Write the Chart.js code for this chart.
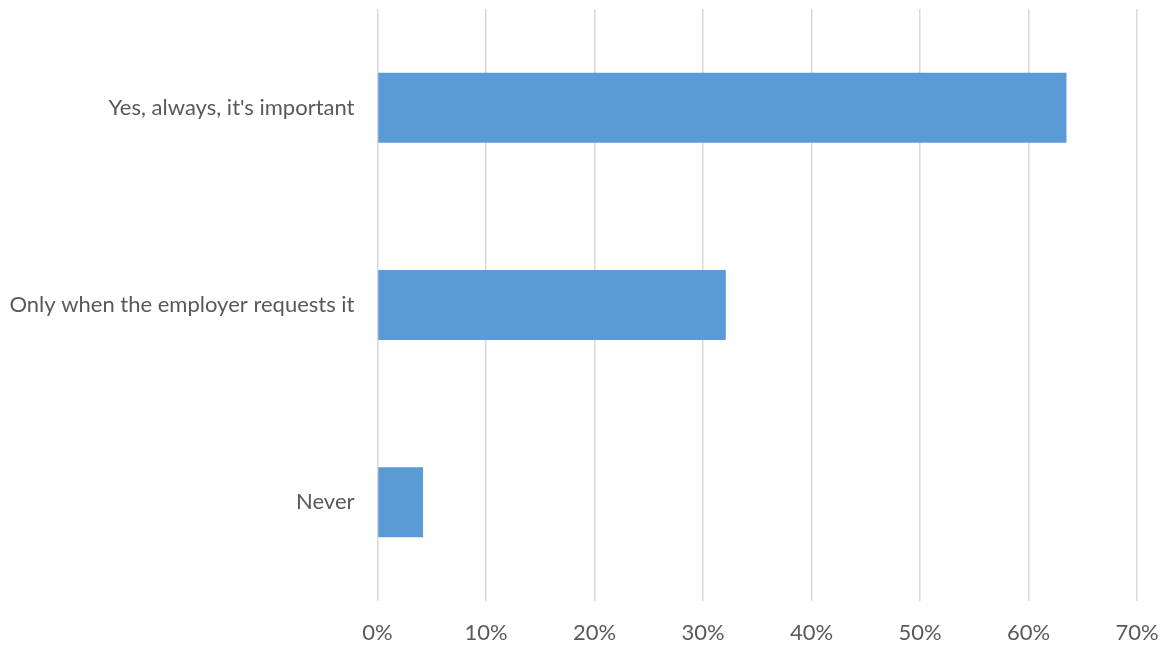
<!DOCTYPE html>
<html>
<head>
<meta charset="utf-8">
<script src="https://cdn.jsdelivr.net/npm/chart.js@4/dist/chart.umd.min.js"></script>
<style>
  html, body { margin: 0; padding: 0; background: #fff; }
  #wrap { width: 1175px; height: 660px; }
</style>
</head>
<body>
<div id="wrap"><canvas id="myChart" width="1175" height="660"></canvas></div>
<script>
// data
const categories = ["Yes, always, it's important", "Only when the employer requests it", "Never"]
const shares = [63.5, 32.1, 4.2]
const tickValues = [0, 10, 20, 30, 40, 50, 60, 70]

const labelFont = { family: "Lato, 'Open Sans', sans-serif", size: 22 }

const data = {
    labels: categories,
    datasets: [{
        data: shares,
        backgroundColor: '#5B9BD5',
        borderWidth: 0,
        barPercentage: 0.355,
        categoryPercentage: 1
    }]
}

const config = {
    type: 'bar',
    data,
    options: {
        indexAxis: 'y',
        responsive: false,
        animation: false,
        layout: { padding: { top: 9, right: 38, left: 0, bottom: 0 } },
        plugins: {
            legend: { display: false },
            tooltip: { enabled: false }
        },
        scales: {
            x: {
                min: 0,
                max: 70,
                afterBuildTicks: (axis) => {
                    axis.ticks = tickValues.map(v => ({ value: v }))
                },
                afterFit: (axis) => {
                    axis.height = 59
                    axis.paddingLeft = 0
                    axis.paddingRight = 0
                },
                grid: { color: '#D9D9D9', lineWidth: 1.5, drawTicks: false },
                border: { display: false },
                ticks: {
                    padding: 19,
                    color: '#595959',
                    font: labelFont,
                    callback: (v) => v + '%'
                }
            },
            y: {
                afterFit: (axis) => {
                    axis.width = 377.5
                    axis.paddingTop = 0
                    axis.paddingBottom = 0
                },
                grid: { display: false, drawTicks: false },
                border: { display: false },
                ticks: {
                    padding: 23,
                    color: '#595959',
                    font: labelFont
                }
            }
        }
    }
}

const myChart = new Chart(document.getElementById('myChart'), config)
</script>
</body>
</html>
